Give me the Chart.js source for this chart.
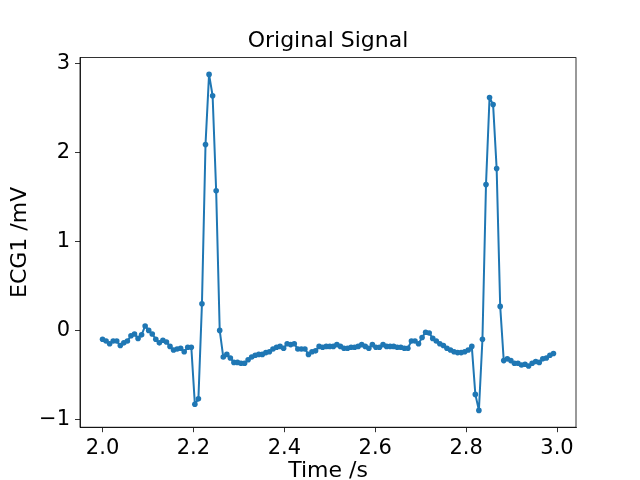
<!DOCTYPE html>
<html>
<head>
<meta charset="utf-8">
<script src="https://cdn.jsdelivr.net/npm/chart.js@4/dist/chart.umd.min.js"></script>
<style>html,body{margin:0;padding:0;background:#fff;}canvas{display:block;}</style>
</head>
<body>
<canvas id="c" width="640" height="480"></canvas>
<script>
// ---- data ----
const startTime = 2.0;      // s
const sampleRate = 128;     // Hz
const ecg1 = [
  -0.10, -0.12, -0.15, -0.12, -0.12, -0.17, -0.14, -0.12, -0.06, -0.04,
  -0.09, -0.05,  0.05,  0.00, -0.04, -0.10, -0.14, -0.11, -0.13, -0.18,
  -0.22, -0.21, -0.20, -0.24, -0.19, -0.19, -0.83, -0.77,  0.30,  2.09,
   2.88,  2.64,  1.57,  0.00, -0.30, -0.27, -0.31, -0.36, -0.36, -0.37,
  -0.37, -0.33, -0.30, -0.28, -0.27, -0.27, -0.25, -0.24, -0.21, -0.19,
  -0.18, -0.20, -0.15, -0.16, -0.15, -0.21, -0.21, -0.21, -0.27, -0.24,
  -0.23, -0.18, -0.19, -0.18, -0.18, -0.18, -0.16, -0.18, -0.20, -0.20,
  -0.19, -0.19, -0.18, -0.16, -0.18, -0.20, -0.16, -0.19, -0.19, -0.16,
  -0.18, -0.18, -0.18, -0.19, -0.19, -0.20, -0.20, -0.12, -0.12, -0.15,
  -0.08, -0.02, -0.03, -0.09, -0.12, -0.15, -0.17, -0.20, -0.22, -0.24,
  -0.25, -0.25, -0.24, -0.22, -0.18, -0.72, -0.90, -0.10,  1.64,  2.62,
   2.54,  1.82,  0.27, -0.34, -0.32, -0.34, -0.37, -0.37, -0.39, -0.38,
  -0.40, -0.37, -0.35, -0.36, -0.32, -0.31, -0.28, -0.26
];
const xTicks = [2.0, 2.2, 2.4, 2.6, 2.8, 3.0];
const yTicks = [-1, 0, 1, 2, 3];
const titleText = 'Original Signal';
const xLabel = 'Time /s';
const yLabel = 'ECG1 /mV';

// ---- build ----
const points = ecg1.map((v, i) => ({ x: startTime + i / sampleRate, y: v }));
function paddedRange(vals) {
  const lo = Math.min(...vals), hi = Math.max(...vals), m = (hi - lo) * 0.05;
  return [lo - m, hi + m];
}
const [xMin, xMax] = paddedRange(points.map(p => p.x));
const [yMin, yMax] = paddedRange(ecg1);

const FONT = "'DejaVu Sans', sans-serif";
Chart.defaults.color = '#000';
Chart.defaults.font.family = FONT;

const frame = {
  id: 'frame',
  afterDraw(chart) {
    const a = chart.chartArea, ctx = chart.ctx;
    ctx.save();
    ctx.strokeStyle = '#000';
    ctx.lineWidth = 0.8;
    ctx.strokeRect(a.left, a.top, a.right - a.left, a.bottom - a.top);
    ctx.restore();
  }
};

new Chart(document.getElementById('c'), {
  type: 'line',
  data: {
    datasets: [{
      data: points,
      borderColor: '#1f77b4',
      backgroundColor: '#1f77b4',
      borderWidth: 2,
      borderJoinStyle: 'round',
      borderCapStyle: 'round',
      pointRadius: 2.8,
      pointBorderWidth: 0,
      pointBackgroundColor: '#1f77b4',
      tension: 0,
      fill: false
    }]
  },
  options: {
    responsive: false,
    animation: false,
    devicePixelRatio: 1,
    layout: { padding: { top: 0, right: 64, bottom: 0, left: 0 } },
    plugins: {
      legend: { display: false },
      tooltip: { enabled: false },
      title: {
        display: true,
        fullSize: false,
        text: titleText,
        color: '#000',
        font: { family: FONT, size: 22, weight: 'normal', lineHeight: 1.2 },
        padding: { top: 28.3, bottom: 2.9 }
      }
    },
    scales: {
      x: {
        type: 'linear',
        min: xMin, max: xMax,
        afterFit(s) { s.height = 52.8; },
        afterBuildTicks(s) { s.ticks = xTicks.map(v => ({ value: v })); },
        grid: { drawOnChartArea: false, drawTicks: true, tickLength: 5, color: '#000', lineWidth: 0.8 },
        border: { display: true, color: '#000', width: 0.8 },
        ticks: {
          padding: 4,
          maxRotation: 0,
          autoSkip: false,
          font: { family: FONT, size: 21 },
          color: '#000',
          callback: v => v.toFixed(1)
        },
        title: {
          display: true, text: xLabel, color: '#000',
          font: { family: FONT, size: 22, lineHeight: 1.2 },
          padding: { top: 0, bottom: -4 }
        }
      },
      y: {
        type: 'linear',
        min: yMin, max: yMax,
        afterFit(s) { s.width = 80; },
        afterBuildTicks(s) { s.ticks = yTicks.map(v => ({ value: v })); },
        grid: { drawOnChartArea: false, drawTicks: true, tickLength: 5, color: '#000', lineWidth: 0.8 },
        border: { display: true, color: '#000', width: 0.8 },
        ticks: {
          padding: 5,
          autoSkip: false,
          font: { family: FONT, size: 21 },
          color: '#000',
          callback: v => String(v).replace('-', '\u2212')
        },
        title: {
          display: true, text: yLabel, color: '#000',
          font: { family: FONT, size: 22, lineHeight: 1.2 },
          padding: { top: 7, bottom: 0 }
        }
      }
    }
  },
  plugins: [frame]
});
</script>
</body>
</html>
